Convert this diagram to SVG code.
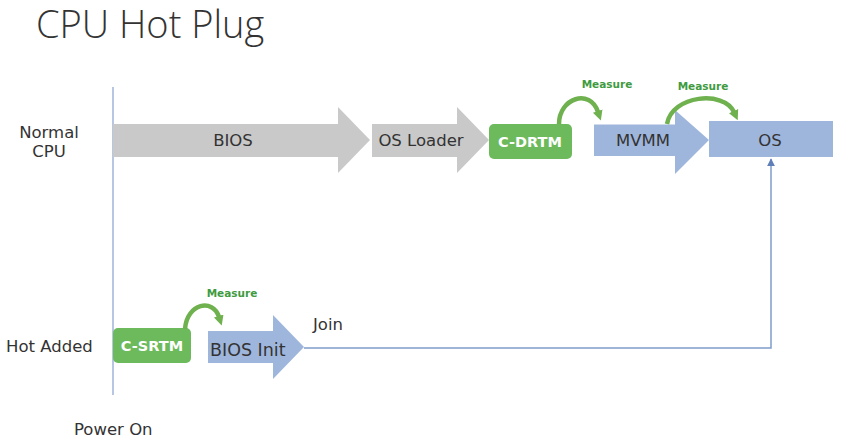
<svg xmlns="http://www.w3.org/2000/svg" width="841" height="443" viewBox="0 0 841 443">
<defs>
<style>
.lbl{font-family:"DejaVu Sans","Liberation Sans",sans-serif;font-size:16.5px;fill:#333;}
.box{font-family:"DejaVu Sans","Liberation Sans",sans-serif;font-size:16.5px;fill:#333;text-anchor:middle;}
.gtx{font-family:"DejaVu Sans","Liberation Sans",sans-serif;font-size:14.5px;font-weight:bold;fill:#fff;text-anchor:middle;}
.meas{font-family:"DejaVu Sans","Liberation Sans",sans-serif;font-size:10.5px;font-weight:bold;fill:#3f9b3f;text-anchor:middle;}
.gray{fill:#c9c9c9;}
.blue{fill:#9fb6dc;}
.green{fill:#6cba5c;}
.curve{fill:none;stroke:#6fb14f;stroke-width:4.5;}
.conn{fill:none;stroke:#7f9dcc;stroke-width:1.5;}
</style>
<marker id="garr" viewBox="0 0 10 10" refX="1" refY="5" markerWidth="10" markerHeight="12" markerUnits="userSpaceOnUse" orient="auto">
<path d="M0,0 L10,5 L0,10 z" fill="#6fb14f"/>
</marker>
<marker id="barr" viewBox="0 0 10 10" refX="9" refY="5" markerWidth="8" markerHeight="8" markerUnits="userSpaceOnUse" orient="auto">
<path d="M0,0 L10,5 L0,10 z" fill="#5f7fb8"/>
</marker>
</defs>
<rect width="841" height="443" fill="#fff"/>
<text x="36" y="38" style="font-family:'Open Sans','Liberation Sans',sans-serif;font-size:38px;font-weight:300;fill:#333;">CPU Hot Plug</text>
<g id="labels">
<text class="lbl" x="49" y="138" text-anchor="middle">Normal</text>
<text class="lbl" x="49" y="157" text-anchor="middle">CPU</text>
<text class="lbl" x="6" y="352">Hot Added</text>
<text class="lbl" x="74" y="435">Power On</text>
</g>
<g id="axis">
<line x1="113" y1="87" x2="113" y2="395" stroke="#9fb3da" stroke-width="1.5"/>
</g>
<g id="bios">
<polygon class="gray" points="113,124 338,124 338,107 370,140 338,173 338,157 113,157"/>
<text class="box" x="233" y="146">BIOS</text>
</g>
<g id="osloader">
<polygon class="gray" points="372,124 457,124 457,107 489,140 457,173 457,157 372,157"/>
<text class="box" x="421" y="146">OS Loader</text>
</g>
<g id="cdrtm">
<rect class="green" x="489" y="124" width="83" height="35" rx="5"/>
<text class="gtx" x="530" y="147">C-DRTM</text>
</g>
<g id="mvmm">
<polygon class="blue" points="594,124.5 675,124.5 675,110 709,140 675,174 675,156 594,156"/>
<text class="box" x="643" y="146">MVMM</text>
</g>
<g id="os">
<rect class="blue" x="709" y="121" width="124" height="36"/>
<text class="box" x="770" y="146">OS</text>
</g>
<g id="csrtm">
<rect class="green" x="113" y="328" width="78" height="35" rx="5"/>
<text class="gtx" x="152" y="351">C-SRTM</text>
</g>
<g id="biosinit">
<polygon class="blue" points="208,331 273,331 273,315 304,347 273,379 273,363 208,363"/>
<text class="lbl" x="210" y="356" style="font-size:17.5px">BIOS Init</text>
</g>
<g id="connectors">
<path class="curve" d="M559,124 C559,98 590,88 598,112" marker-end="url(#garr)"/>
<path class="curve" d="M667,124 C672,95 724,90 734,112" marker-end="url(#garr)"/>
<path class="curve" d="M185,329 C187,303 213,298 219,317" marker-end="url(#garr)"/>
<path class="conn" d="M304,348 L771,348 L771,159" marker-end="url(#barr)"/>
</g>
<g id="connector-labels">
<text class="meas" x="607" y="88">Measure</text>
<text class="meas" x="703" y="90">Measure</text>
<text class="meas" x="232" y="297">Measure</text>
<text class="lbl" x="313" y="330">Join</text>
</g>
</svg>
